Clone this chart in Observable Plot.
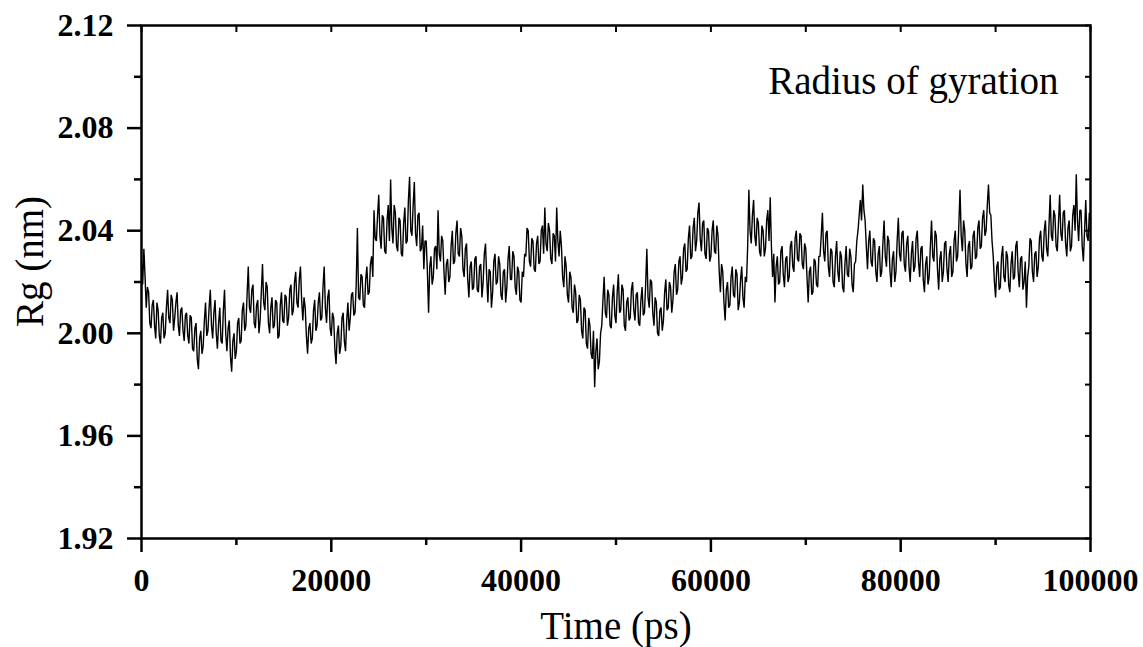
<!DOCTYPE html>
<html>
<head>
<meta charset="utf-8">
<script src="https://cdn.jsdelivr.net/npm/d3@7"></script>
<script src="https://cdn.jsdelivr.net/npm/@observablehq/plot@0.6"></script>
<style>
  html, body { margin: 0; padding: 0; background: #fff; }
  #chart svg { display: block; }
</style>
</head>
<body>
<div id="chart"></div>
<script>
// ---- data ----
const timeStep = 125; // ps between samples
const rgValues = [
  // 0 – 4875
  2.028,2.019,2.033,2.022,2.010,2.018,2.016,2.004,2.002,2.011,2.013,2.003,1.998,2.012,2.009,1.999,1.996,2.006,2.008,1.998,
  2.000,2.010,2.017,2.006,2.004,2.015,2.013,2.001,2.006,2.012,2.016,2.003,1.999,2.009,2.010,2.001,1.997,2.007,2.008,1.999,
  // 5000 – 9875
  1.996,2.007,2.006,1.994,1.993,2.002,2.004,1.990,1.986,1.998,2.001,1.992,1.995,2.005,2.012,1.999,2.001,2.010,2.017,2.003,
  1.998,2.008,2.013,2.000,1.994,2.004,2.010,1.997,1.996,2.009,2.017,2.000,1.993,2.002,2.005,1.991,1.985,1.997,2.000,1.990,
  // 10000 – 14875
  1.993,2.004,2.006,1.996,1.997,2.009,2.012,2.001,2.003,2.015,2.026,2.010,2.008,2.017,2.019,2.004,2.002,2.011,2.013,2.000,
  2.005,2.016,2.027,2.012,2.009,2.020,2.018,2.004,2.000,2.010,2.014,2.002,2.003,2.013,2.012,1.998,1.999,2.011,2.016,2.005,
  // 15000 – 19875
  2.004,2.015,2.014,2.003,2.006,2.017,2.019,2.007,2.009,2.020,2.024,2.012,2.010,2.021,2.026,2.013,2.005,2.014,2.010,1.999,
  1.992,2.002,2.004,1.996,1.998,2.009,2.013,2.001,2.003,2.012,2.016,2.005,2.006,2.018,2.026,2.010,2.004,2.014,2.017,2.002,
  // 20000 – 24875
  1.999,2.008,2.006,1.994,1.988,2.000,2.003,1.992,1.995,2.006,2.008,1.997,1.993,2.005,2.012,2.001,2.006,2.015,2.016,2.007,
  2.008,2.019,2.041,2.014,2.013,2.023,2.022,2.011,2.010,2.021,2.026,2.015,2.016,2.027,2.030,2.022,2.048,2.037,2.036,2.046,
  // 25000 – 29875
  2.054,2.038,2.033,2.046,2.045,2.032,2.031,2.044,2.050,2.036,2.060,2.041,2.035,2.050,2.047,2.034,2.032,2.045,2.044,2.031,
  2.030,2.043,2.049,2.035,2.036,2.052,2.061,2.040,2.038,2.050,2.059,2.039,2.034,2.046,2.047,2.032,2.033,2.042,2.025,2.036,
  // 30000 – 34875
  2.036,2.024,2.008,2.026,2.030,2.019,2.022,2.033,2.034,2.025,2.048,2.031,2.028,2.038,2.036,2.024,2.015,2.027,2.029,2.020,
  2.022,2.034,2.040,2.027,2.028,2.039,2.044,2.031,2.030,2.041,2.038,2.025,2.022,2.033,2.035,2.021,2.014,2.026,2.028,2.017,
  // 35000 – 39875
  2.018,2.029,2.030,2.017,2.016,2.026,2.027,2.014,2.020,2.031,2.035,2.022,2.012,2.025,2.024,2.010,2.016,2.028,2.031,2.019,
  2.020,2.030,2.027,2.015,2.013,2.024,2.025,2.012,2.018,2.029,2.034,2.021,2.021,2.032,2.030,2.018,2.015,2.026,2.024,2.013,
  // 40000 – 44875
  2.012,2.024,2.022,2.031,2.030,2.041,2.040,2.028,2.026,2.037,2.036,2.025,2.024,2.035,2.038,2.027,2.028,2.040,2.042,2.031,
  2.049,2.035,2.032,2.043,2.040,2.029,2.027,2.039,2.038,2.028,2.049,2.036,2.030,2.040,2.034,2.022,2.018,2.030,2.026,2.015,
  // 45000 – 49875
  2.012,2.024,2.022,2.010,2.008,2.019,2.016,2.004,2.005,2.015,2.013,2.001,1.998,2.010,2.009,1.996,1.994,2.006,2.003,1.992,
  1.990,2.001,1.979,1.993,1.998,1.986,1.989,2.000,2.003,2.013,2.022,2.008,2.006,2.017,2.015,2.003,2.002,2.014,2.019,2.007,
  // 50000 – 54875
  2.004,2.016,2.023,2.008,2.009,2.019,2.017,2.003,2.001,2.012,2.014,2.005,2.006,2.017,2.020,2.009,2.005,2.015,2.016,2.004,
  2.003,2.013,2.018,2.007,2.008,2.019,2.033,2.014,2.010,2.021,2.020,2.008,2.003,2.014,2.012,2.000,1.999,2.009,2.010,2.001,
  // 55000 – 59875
  2.005,2.016,2.021,2.009,2.010,2.020,2.018,2.008,2.013,2.024,2.027,2.015,2.017,2.028,2.030,2.019,2.022,2.033,2.035,2.024,
  2.025,2.037,2.042,2.029,2.030,2.041,2.045,2.032,2.036,2.047,2.051,2.037,2.032,2.043,2.044,2.031,2.029,2.041,2.040,2.028,
  // 60000 – 64875
  2.030,2.040,2.044,2.032,2.031,2.042,2.038,2.024,2.016,2.027,2.024,2.012,2.005,2.017,2.020,2.010,2.011,2.022,2.026,2.015,
  2.014,2.025,2.023,2.009,2.012,2.021,2.026,2.014,2.010,2.022,2.020,2.034,2.056,2.040,2.035,2.046,2.052,2.038,2.034,2.045,
  // 65000 – 69875
  2.043,2.032,2.030,2.042,2.040,2.030,2.033,2.044,2.048,2.036,2.053,2.034,2.022,2.031,2.012,2.026,2.030,2.019,2.020,2.032,
  2.034,2.023,2.018,2.029,2.030,2.020,2.022,2.034,2.036,2.026,2.024,2.037,2.040,2.029,2.028,2.039,2.038,2.027,2.025,2.035,
  // 70000 – 74875
  2.033,2.022,2.012,2.024,2.026,2.015,2.016,2.029,2.028,2.019,2.018,2.030,2.030,2.038,2.047,2.032,2.028,2.039,2.040,2.026,
  2.022,2.033,2.032,2.020,2.018,2.030,2.036,2.024,2.020,2.032,2.030,2.018,2.016,2.027,2.034,2.023,2.022,2.033,2.030,2.019,
  // 75000 – 79875
  2.016,2.027,2.028,2.036,2.040,2.046,2.052,2.044,2.058,2.048,2.044,2.034,2.025,2.036,2.040,2.028,2.026,2.037,2.036,2.024,
  2.020,2.031,2.034,2.022,2.024,2.035,2.044,2.030,2.026,2.038,2.036,2.024,2.018,2.029,2.032,2.020,2.024,2.036,2.045,2.031,
  // 80000 – 84875
  2.028,2.039,2.040,2.027,2.024,2.035,2.038,2.026,2.020,2.031,2.036,2.024,2.026,2.037,2.040,2.028,2.022,2.033,2.034,2.021,
  2.016,2.027,2.030,2.019,2.022,2.034,2.044,2.030,2.028,2.040,2.038,2.025,2.017,2.029,2.032,2.020,2.024,2.035,2.036,2.025,
  // 85000 – 89875
  2.020,2.031,2.034,2.022,2.024,2.036,2.040,2.028,2.030,2.042,2.056,2.038,2.032,2.044,2.040,2.027,2.022,2.034,2.036,2.025,
  2.026,2.038,2.040,2.029,2.030,2.041,2.044,2.033,2.034,2.045,2.048,2.038,2.040,2.050,2.058,2.047,2.046,2.036,2.030,2.020,
  // 90000 – 94875
  2.014,2.026,2.028,2.017,2.018,2.030,2.034,2.022,2.020,2.032,2.030,2.019,2.016,2.027,2.032,2.021,2.022,2.034,2.036,2.024,
  2.018,2.029,2.030,2.017,2.020,2.028,2.010,2.022,2.026,2.037,2.036,2.024,2.020,2.031,2.032,2.022,2.026,2.037,2.040,2.030,
  // 95000 – 99875
  2.028,2.040,2.044,2.033,2.030,2.042,2.054,2.038,2.036,2.048,2.046,2.034,2.032,2.043,2.054,2.039,2.036,2.047,2.048,2.035,
  2.030,2.041,2.044,2.032,2.034,2.046,2.050,2.040,2.062,2.044,2.036,2.048,2.048,2.034,2.028,2.040,2.052,2.038,2.036,2.047,
  // 100000
  2.044
];

const xTicks = [0, 20000, 40000, 60000, 80000, 100000];
const xMinorTicks = [10000, 30000, 50000, 70000, 90000];
const xAllTicks = [0, 10000, 20000, 30000, 40000, 50000, 60000, 70000, 80000, 90000, 100000];
const yTicks = [1.92, 1.96, 2.00, 2.04, 2.08, 2.12];
const yMinorTicks = [1.94, 1.98, 2.02, 2.06, 2.10];
const yAllTicks = [1.92, 1.94, 1.96, 1.98, 2.00, 2.02, 2.04, 2.06, 2.08, 2.10, 2.12];

const xTitle = "Time (ps)";
const yTitle = "Rg (nm)";
const plotTitle = "Radius of gyration";

const series = rgValues.map((rg, i) => ({time: i * timeStep, rg}));

const serif = "'Liberation Serif', 'Times New Roman', 'DejaVu Serif', serif";

const chart = Plot.plot({
  width: 1143,
  height: 647,
  marginLeft: 141,
  marginRight: 53,
  marginTop: 25,
  marginBottom: 109,
  style: {fontFamily: serif, color: "#000", background: "#fff"},
  x: {domain: [0, 100000]},
  y: {domain: [1.92, 2.12]},
  marks: [
    Plot.line(series, {x: "time", y: "rg", stroke: "#000", strokeWidth: 1.4, strokeLinejoin: "miter"}),
    Plot.frame({stroke: "#000", strokeWidth: 2.5}),
    // bottom axis
    Plot.axisX({anchor: "bottom", ticks: xTicks, tickSize: 14, tickPadding: 16, tickFormat: d3.format("d"),
      fontSize: 32, fontWeight: "bold", strokeWidth: 2.5, label: null}),
    Plot.axisX({anchor: "bottom", ticks: xMinorTicks, tickSize: 7, text: null, strokeWidth: 2.5, label: null}),
    // top axis (inward ticks)
    Plot.axisX({anchor: "top", ticks: xAllTicks, tickSize: -6, text: null, strokeWidth: 2, label: null}),
    // left axis
    Plot.axisY({anchor: "left", ticks: yTicks, tickSize: 14, tickPadding: 14, tickFormat: d3.format(".2f"),
      fontSize: 32, fontWeight: "bold", strokeWidth: 2.5, label: null}),
    Plot.axisY({anchor: "left", ticks: yMinorTicks, tickSize: 7, text: null, strokeWidth: 2.5, label: null}),
    // right axis (inward ticks)
    Plot.axisY({anchor: "right", ticks: yAllTicks, tickSize: -6, text: null, strokeWidth: 2, label: null}),
    // titles
    Plot.text([xTitle], {frameAnchor: "bottom", dy: 88, fontSize: 39, fill: "#000", lineAnchor: "middle"}),
    Plot.text([yTitle], {frameAnchor: "left", rotate: -90, dx: -111, dy: 45, fontSize: 39, fill: "#000", lineAnchor: "middle"}),
    Plot.text([plotTitle], {frameAnchor: "top-right", textAnchor: "end", dx: -32, dy: 56, fontSize: 39, fill: "#000", lineAnchor: "middle"})
  ]
});

document.getElementById("chart").appendChild(chart);
</script>
</body>
</html>
